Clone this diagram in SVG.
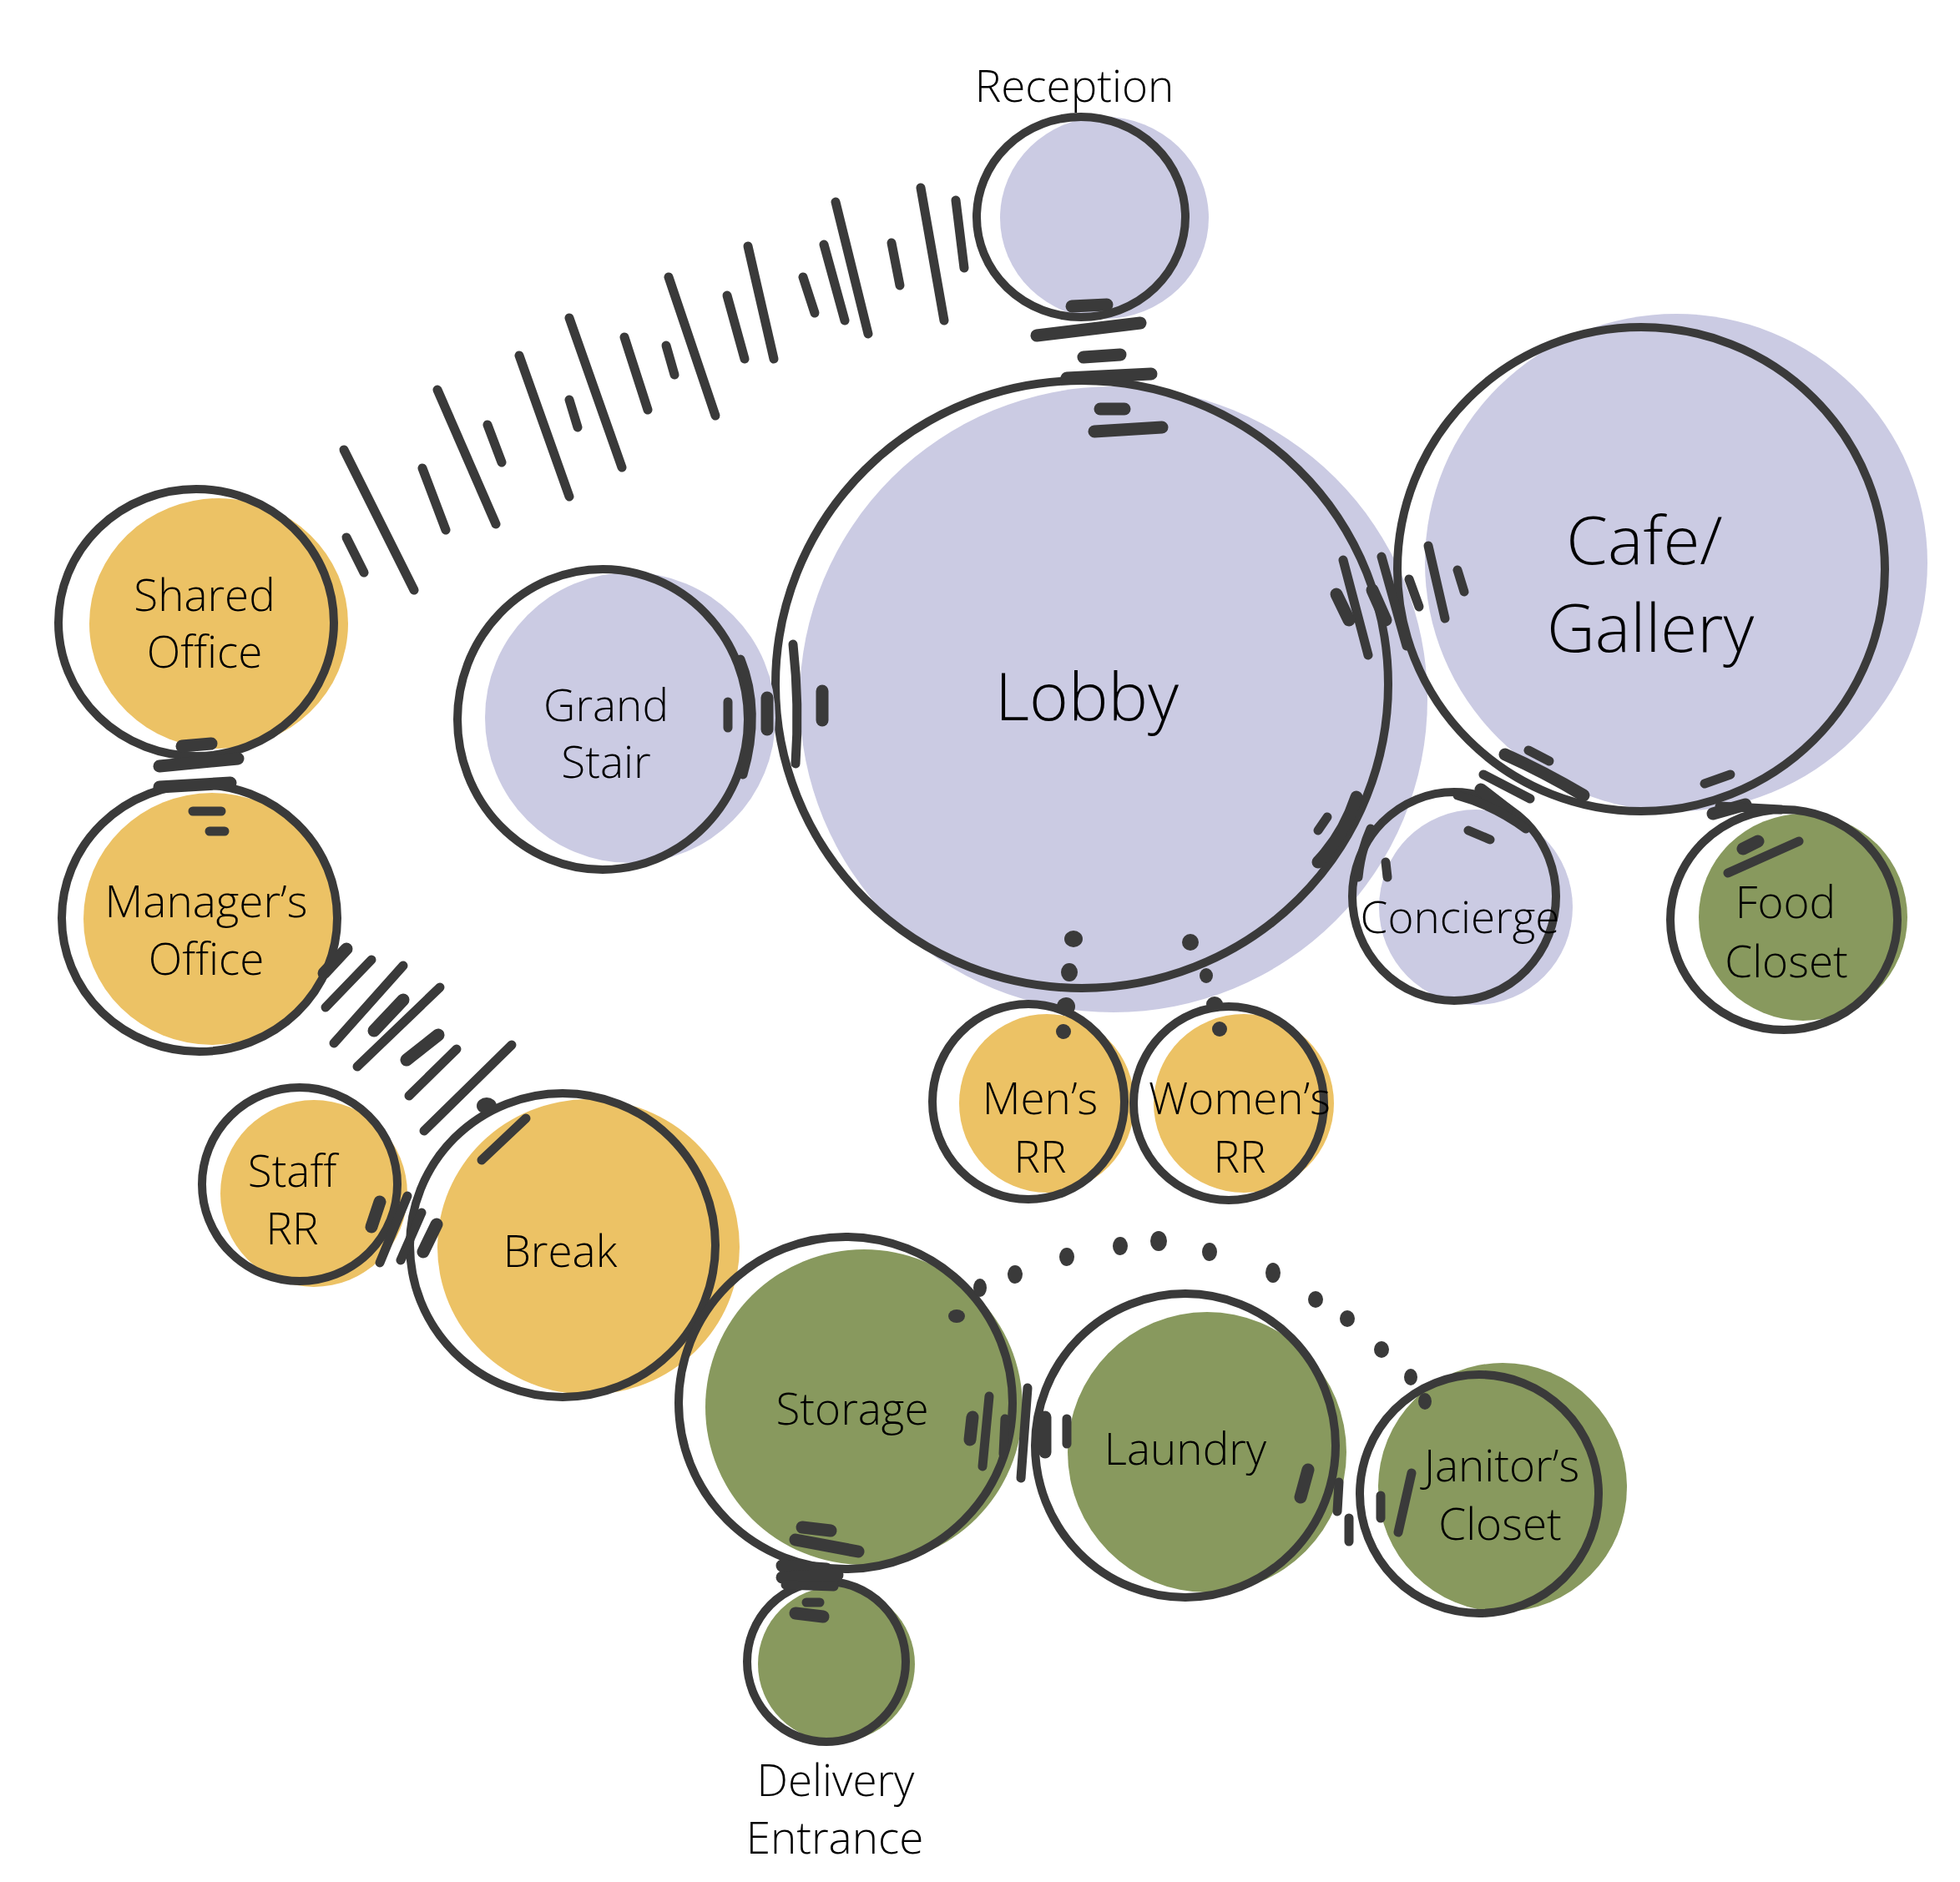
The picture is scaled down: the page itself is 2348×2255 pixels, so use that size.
<svg xmlns="http://www.w3.org/2000/svg" width="2348" height="2255" viewBox="0 0 2348 2255">
<style>
.bg{fill:#ffffff}
.lav{fill:#cbcbe3}
.yel{fill:#ecc265}
.grn{fill:#88995e}
.ring{fill:none;stroke:#3a3a3a;stroke-width:10}
.tk{fill:none;stroke:#3a3a3a;stroke-width:11;stroke-linecap:round}
.tkb{fill:none;stroke:#3a3a3a;stroke-width:15;stroke-linecap:round}
.dot{fill:#3a3a3a}
.lbl{font-family:"Open Sans",Roboto,"Liberation Sans",sans-serif;font-weight:300;font-stretch:91%;font-size:53px;fill:#000;text-anchor:middle}
.big{font-size:80px}
</style>
<rect class="bg" x="0" y="0" width="2348" height="2255"/>

<g id="node-reception">
<ellipse class="lav" cx="1323" cy="261" rx="125" ry="121"/>
<ellipse class="ring" cx="1295" cy="260" rx="125" ry="120"/>
<text class="lbl" x="1287" y="122">Reception</text>
</g>

<g id="node-lobby">
<ellipse class="lav" cx="1334" cy="838" rx="376" ry="375"/>
<ellipse class="ring" cx="1296" cy="820" rx="367" ry="364"/>
<text class="lbl big" x="1302" y="863">Lobby</text>
</g>

<g id="node-cafe-gallery">
<ellipse class="lav" cx="2008" cy="674" rx="301" ry="298"/>
<ellipse class="ring" cx="1966" cy="682" rx="292" ry="290"/>
<text class="lbl big" x="1970" y="676">Cafe/</text>
<text class="lbl big" x="1977" y="781">Gallery</text>
</g>

<g id="node-grand-stair">
<ellipse class="lav" cx="755" cy="860" rx="174" ry="174"/>
<ellipse class="ring" cx="722" cy="862" rx="174" ry="180"/>
<text class="lbl" x="726" y="864">Grand</text>
<text class="lbl" x="726" y="932">Stair</text>
</g>

<g id="node-shared-office">
<ellipse class="yel" cx="262" cy="747" rx="155" ry="150"/>
<ellipse class="ring" cx="235" cy="746" rx="165" ry="160"/>
<text class="lbl" x="245" y="732">Shared</text>
<text class="lbl" x="245" y="800">Office</text>
</g>

<g id="node-managers-office">
<ellipse class="yel" cx="254" cy="1101" rx="154" ry="151"/>
<ellipse class="ring" cx="239" cy="1100" rx="165" ry="160"/>
<text class="lbl" x="247" y="1099">Manager’s</text>
<text class="lbl" x="247" y="1168">Office</text>
</g>

<g id="node-staff-rr">
<ellipse class="yel" cx="376" cy="1430" rx="112" ry="112"/>
<ellipse class="ring" cx="359" cy="1419" rx="117" ry="116"/>
<text class="lbl" x="350" y="1422">Staff</text>
<text class="lbl" x="350" y="1491">RR</text>
</g>

<g id="node-break">
<ellipse class="yel" cx="705" cy="1494" rx="181" ry="177"/>
<ellipse class="ring" cx="674" cy="1492" rx="183" ry="182"/>
<text class="lbl" x="671" y="1518">Break</text>
</g>

<g id="node-mens-rr">
<ellipse class="yel" cx="1254" cy="1322" rx="105" ry="107"/>
<ellipse class="ring" cx="1232" cy="1320" rx="115" ry="117"/>
<text class="lbl" x="1246" y="1335">Men’s</text>
<text class="lbl" x="1246" y="1405">RR</text>
</g>

<g id="node-womens-rr">
<ellipse class="yel" cx="1490" cy="1322" rx="108" ry="107"/>
<ellipse class="ring" cx="1472" cy="1322" rx="114" ry="116"/>
<text class="lbl" x="1485" y="1335">Women’s</text>
<text class="lbl" x="1485" y="1405">RR</text>
</g>

<g id="node-concierge">
<ellipse class="lav" cx="1768" cy="1087" rx="116" ry="117"/>
<ellipse class="ring" cx="1742" cy="1074" rx="122" ry="125"/>
<text class="lbl" x="1749" y="1118">Concierge</text>
</g>

<g id="node-food-closet">
<ellipse class="grn" cx="2160" cy="1099" rx="125" ry="124"/>
<ellipse class="ring" cx="2137" cy="1102" rx="136" ry="132"/>
<text class="lbl" x="2139" y="1100">Food</text>
<text class="lbl" x="2140" y="1171">Closet</text>
</g>

<g id="node-storage">
<ellipse class="grn" cx="1035" cy="1686" rx="190" ry="189"/>
<ellipse class="ring" cx="1013" cy="1681" rx="200" ry="199"/>
<text class="lbl" x="1021" y="1707">Storage</text>
</g>

<g id="node-laundry">
<ellipse class="grn" cx="1446" cy="1740" rx="167" ry="168"/>
<ellipse class="ring" cx="1420" cy="1732" rx="180" ry="182"/>
<text class="lbl" x="1420" y="1755">Laundry</text>
</g>

<g id="node-janitors-closet">
<ellipse class="grn" cx="1800" cy="1782" rx="149" ry="149"/>
<ellipse class="ring" cx="1772" cy="1790" rx="143" ry="143"/>
<text class="lbl" x="1799" y="1775">Janitor’s</text>
<text class="lbl" x="1797" y="1845">Closet</text>
</g>

<g id="node-delivery-entrance">
<ellipse class="grn" cx="1002" cy="1994" rx="94" ry="93"/>
<ellipse class="ring" cx="990" cy="1991" rx="95" ry="96"/>
<text class="lbl" x="1001" y="2152">Delivery</text>
<text class="lbl" x="1000" y="2221">Entrance</text>
</g>

<g id="connectors">
<g id="conn-shared-reception">
<path class="tk" d="M412 539L496 707"/>
<path class="tk" d="M415 644L436 686"/>
<path class="tk" d="M506 561L534 635"/>
<path class="tk" d="M524 467L594 628"/>
<path class="tk" d="M584 509L601 554"/>
<path class="tk" d="M622 426L682 595"/>
<path class="tk" d="M682 381L745 560"/>
<path class="tk" d="M682 479L692 512"/>
<path class="tk" d="M748 404L776 491"/>
<path class="tk" d="M798 414L808 449"/>
<path class="tk" d="M801 332L857 498"/>
<path class="tk" d="M871 354L892 430"/>
<path class="tk" d="M896 295L927 430"/>
<path class="tk" d="M962 332L976 375"/>
<path class="tk" d="M987 293L1012 384"/>
<path class="tk" d="M1001 242L1040 400"/>
<path class="tk" d="M1068 291L1078 342"/>
<path class="tk" d="M1103 225L1131 384"/>
<path class="tk" d="M1145 240L1155 321"/>
</g>
<g id="conn-reception-lobby">
<path class="tkb" d="M1284 367L1326 365"/>
<path class="tkb" d="M1242 402L1366 387"/>
<path class="tkb" d="M1298 428L1342 425"/>
<path class="tkb" d="M1278 453L1379 448"/>
<path class="tkb" d="M1318 490L1347 490"/>
<path class="tkb" d="M1311 517L1392 512"/>
</g>
<g id="conn-stair-lobby">
<path class="tk" d="M872 841L872 872"/>
<path class="tk" d="M887 790Q912 852 890 928"/>
<path class="tkb" d="M919 836L919 874"/>
<path class="tk" d="M950 772Q958 845 953 915"/>
<path class="tkb" d="M985 828L985 863"/>
</g>
<g id="conn-lobby-cafe">
<path class="tk" d="M1609 671L1639 785"/>
<path class="tkb" d="M1601 712L1616 743"/>
<path class="tk" d="M1655 667L1685 774"/>
<path class="tkb" d="M1644 707L1660 743"/>
<path class="tk" d="M1688 694L1700 727"/>
<path class="tk" d="M1711 654L1731 741"/>
<path class="tk" d="M1746 683L1754 709"/>
</g>
<g id="conn-lobby-concierge">
<path class="tkb" d="M1625 955Q1610 1000 1579 1033"/>
<path class="tk" d="M1590 979L1579 995"/>
<path class="tk" d="M1642 993Q1630 1020 1627 1051"/>
<path class="tk" d="M1660 1033L1662 1051"/>
</g>
<g id="conn-cafe-concierge">
<path class="tk" d="M1831 899L1856 912"/>
<path class="tkb" d="M1803 904Q1850 925 1897 953"/>
<path class="tk" d="M1777 928L1833 957"/>
<path class="tkb" d="M1774 946L1805 970"/>
<path class="tk" d="M1746 953Q1790 965 1828 993"/>
<path class="tk" d="M1759 995L1785 1006"/>
</g>
<g id="conn-cafe-food">
<path class="tk" d="M2042 939L2073 928"/>
<path class="tkb" d="M2052 975L2091 964"/>
<path class="tk" d="M2060 966L2134 970"/>
<path class="tkb" d="M2088 1017L2106 1008"/>
<path class="tk" d="M2070 1046L2155 1008"/>
</g>
<g id="conn-lobby-mens">
<ellipse class="dot" cx="1286" cy="1125" rx="11" ry="10"/>
<ellipse class="dot" cx="1281" cy="1165" rx="10" ry="11"/>
<ellipse class="dot" cx="1277" cy="1206" rx="11" ry="11"/>
<ellipse class="dot" cx="1274" cy="1236" rx="9" ry="9"/>
</g>
<g id="conn-lobby-womens">
<ellipse class="dot" cx="1426" cy="1129" rx="10" ry="10"/>
<ellipse class="dot" cx="1445" cy="1169" rx="8" ry="9"/>
<ellipse class="dot" cx="1455" cy="1203" rx="10" ry="9"/>
<ellipse class="dot" cx="1461" cy="1233" rx="9" ry="9"/>
</g>
<g id="conn-shared-managers">
<path class="tkb" d="M218 894L253 891"/>
<path class="tkb" d="M191 918L285 909"/>
<path class="tkb" d="M191 943L276 938"/>
<path class="tk" d="M231 972L265 972"/>
<path class="tk" d="M251 996L269 996"/>
</g>
<g id="conn-managers-break">
<path class="tkb" d="M415 1137L388 1166"/>
<path class="tk" d="M445 1150L390 1207"/>
<path class="tk" d="M483 1157L400 1250"/>
<path class="tkb" d="M483 1198L448 1235"/>
<path class="tk" d="M527 1183L428 1278"/>
<path class="tkb" d="M525 1240L487 1270"/>
<path class="tk" d="M547 1257L490 1313"/>
<path class="tk" d="M613 1252L508 1355"/>
<path class="tk" d="M630 1340L577 1390"/>
<ellipse class="dot" cx="583" cy="1325" rx="12" ry="10"/>
</g>
<g id="conn-staff-break">
<path class="tkb" d="M455 1440L445 1470"/>
<path class="tk" d="M488 1433L455 1513"/>
<path class="tk" d="M505 1453L480 1510"/>
<path class="tkb" d="M523 1467L507 1500"/>
</g>
<g id="conn-storage-laundry">
<path class="tk" d="M1185 1673L1177 1757"/>
<path class="tkb" d="M1165 1698L1162 1725"/>
<path class="tk" d="M1204 1700L1202 1742"/>
<path class="tk" d="M1231 1663L1223 1771"/>
<path class="tkb" d="M1252 1698L1252 1740"/>
<path class="tk" d="M1278 1700L1278 1730"/>
</g>
<g id="conn-laundry-janitor">
<path class="tkb" d="M1567 1761L1558 1794"/>
<path class="tk" d="M1604 1776L1602 1811"/>
<path class="tk" d="M1616 1819L1616 1847"/>
<path class="tk" d="M1654 1792L1654 1819"/>
<path class="tk" d="M1691 1765L1675 1836"/>
</g>
<g id="conn-storage-delivery">
<path class="tkb" d="M961 1830L995 1834"/>
<path class="tkb" d="M953 1845L1028 1859"/>
<path class="tkb" d="M937 1876L990 1880"/>
<path class="tkb" d="M937 1890L1003 1887"/>
<path class="tk" d="M941 1899L999 1901"/>
<path class="tk" d="M966 1920L982 1920"/>
<path class="tkb" d="M953 1933L986 1937"/>
</g>
<g id="conn-storage-janitor">
<ellipse class="dot" cx="1146" cy="1577" rx="10" ry="8"/>
<ellipse class="dot" cx="1174" cy="1543" rx="8" ry="11"/>
<ellipse class="dot" cx="1216" cy="1527" rx="9" ry="11"/>
<ellipse class="dot" cx="1278" cy="1506" rx="9" ry="11"/>
<ellipse class="dot" cx="1342" cy="1493" rx="9" ry="11"/>
<ellipse class="dot" cx="1388" cy="1487" rx="10" ry="12"/>
<ellipse class="dot" cx="1449" cy="1500" rx="9" ry="11"/>
<ellipse class="dot" cx="1525" cy="1525" rx="9" ry="12"/>
<ellipse class="dot" cx="1576" cy="1557" rx="9" ry="10"/>
<ellipse class="dot" cx="1614" cy="1580" rx="9" ry="10"/>
<ellipse class="dot" cx="1655" cy="1617" rx="9" ry="10"/>
<ellipse class="dot" cx="1690" cy="1650" rx="8" ry="10"/>
<ellipse class="dot" cx="1707" cy="1679" rx="8" ry="10"/>
</g>
</g>
</svg>
